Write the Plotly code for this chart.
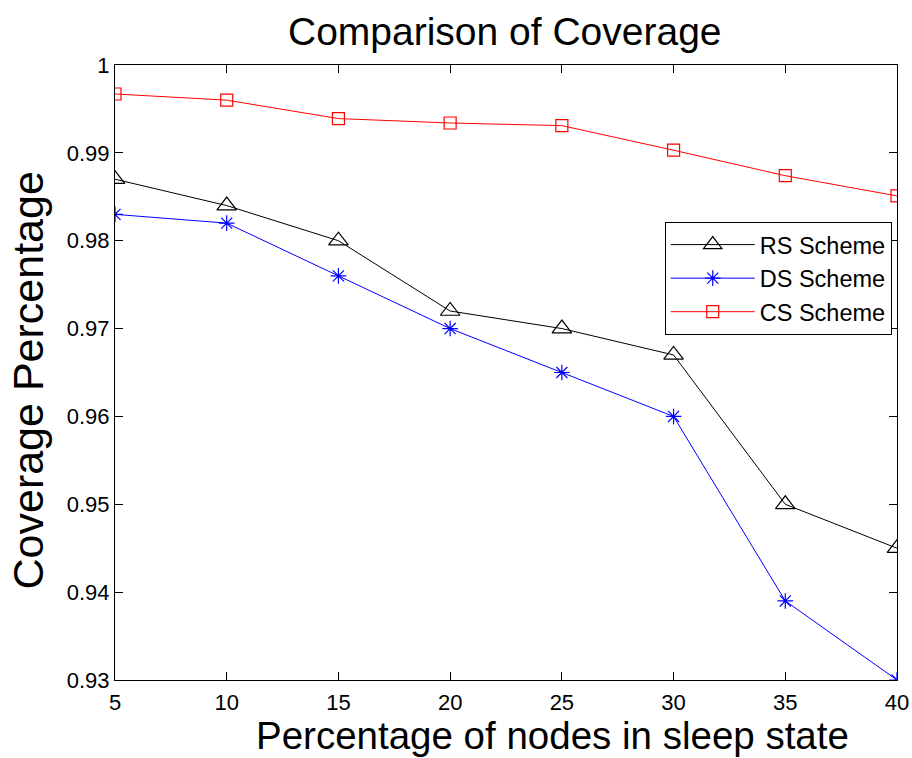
import plotly.graph_objects as go

# Percentage of nodes put to sleep
sleep_pct = [5, 10, 15, 20, 25, 30, 35, 40]

# Coverage achieved by each scheduling scheme
rs_scheme = [0.987, 0.984, 0.980, 0.972, 0.970, 0.967, 0.950, 0.945]
ds_scheme = [0.983, 0.982, 0.976, 0.970, 0.965, 0.960, 0.939, 0.930]
cs_scheme = [0.9967, 0.9960, 0.9939, 0.9934, 0.9931, 0.9903, 0.9874, 0.9851]

x_ticks = [5, 10, 15, 20, 25, 30, 35, 40]
y_ticks = [0.93, 0.94, 0.95, 0.96, 0.97, 0.98, 0.99, 1.0]
y_tick_text = ["0.93", "0.94", "0.95", "0.96", "0.97", "0.98", "0.99", "1"]

FONT = "Liberation Sans, Arial, Helvetica, sans-serif"

fig = go.Figure()
fig.add_trace(go.Scatter(
    x=sleep_pct, y=rs_scheme, name="RS Scheme", mode="lines+markers",
    line=dict(color="black", width=1),
    marker=dict(symbol="triangle-up-open", size=17, color="black",
                line=dict(width=1.2, color="black")),
))
fig.add_trace(go.Scatter(
    x=sleep_pct, y=ds_scheme, name="DS Scheme", mode="lines+markers",
    line=dict(color="#0000ff", width=1),
    marker=dict(symbol="asterisk-open", size=13, color="#0000ff",
                line=dict(width=1.2, color="#0000ff")),
))
fig.add_trace(go.Scatter(
    x=sleep_pct, y=cs_scheme, name="CS Scheme", mode="lines+markers",
    line=dict(color="#ff0000", width=1),
    marker=dict(symbol="square-open", size=12, color="#ff0000",
                line=dict(width=1.2, color="#ff0000")),
))

axis_common = dict(
    showline=True, linecolor="black", linewidth=1, mirror="ticks",
    ticks="inside", ticklen=8, tickwidth=1, tickcolor="black",
    showgrid=False, zeroline=False, automargin=False,
    tickfont=dict(family=FONT, size=22, color="black"),
)

fig.update_layout(
    template="none",
    width=912, height=758,
    margin=dict(l=115, r=15, t=65, b=78, autoexpand=False),
    paper_bgcolor="white", plot_bgcolor="white",
    font=dict(family=FONT, color="black"),
    showlegend=True,
    legend=dict(
        x=0.703, y=0.745, xanchor="left", yanchor="top",
        bgcolor="white", bordercolor="black", borderwidth=1,
        font=dict(family=FONT, size=23.5, color="black"),
        itemwidth=84, tracegroupgap=0,
    ),
    xaxis=dict(range=[5, 40], tickvals=x_ticks, ticklabelstandoff=3,
               **axis_common),
    yaxis=dict(range=[0.93, 1.0], tickvals=y_ticks, ticktext=y_tick_text,
               **axis_common),
    annotations=[
        dict(text="Comparison of Coverage", xref="paper", yref="paper",
             x=0.4987, y=1.0, yshift=34, xanchor="center", yanchor="middle",
             showarrow=False, font=dict(family=FONT, size=39, color="black")),
        dict(text="Percentage of nodes in sleep state", xref="paper",
             yref="paper", x=0.56, y=0.0, yshift=-55, xanchor="center",
             yanchor="middle", showarrow=False,
             font=dict(family=FONT, size=38.5, color="black")),
        dict(text="Coverage Percentage", xref="paper", yref="paper",
             x=0.0, xshift=-87, y=0.487, xanchor="center", yanchor="middle",
             textangle=-90, showarrow=False,
             font=dict(family=FONT, size=43, color="black")),
    ],
)

fig.write_html("out.html")
